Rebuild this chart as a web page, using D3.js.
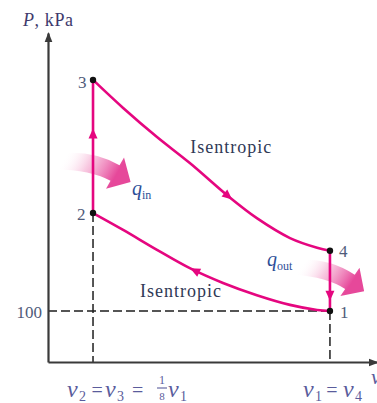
<!DOCTYPE html>
<html>
<head>
<meta charset="utf-8">
<script src="https://cdn.jsdelivr.net/npm/d3@7"></script>
<style>
  html, body { margin: 0; padding: 0; background: #ffffff; }
  svg { display: block; }
  svg text { font-family: 'Liberation Serif', 'Times New Roman', 'DejaVu Serif', serif; }
</style>
</head>
<body>
<svg id="chart" width="377" height="403"></svg>
<script>
// Ideal Otto cycle on P-v coordinates (schematic)
const stateNames = ["1", "2", "3", "4"];
const stateV = [8, 1, 1, 8];            // specific volume, in units of v2
const stateP = [100, 292, 553, 218];    // pressure, kPa

// isentropic compression 1 -> 2
const compressionV = [8, 7.62, 6.82, 5.84, 4.84, 3.86, 2.89, 1.89, 1];
const compressionP = [100, 102, 112, 131, 155, 184, 220, 259, 292];
// isentropic expansion 3 -> 4
const expansionV = [1, 1.89, 2.89, 3.86, 5.05, 5.84, 6.82, 7.62, 8];
const expansionP = [553, 498, 441, 390, 322, 282, 243, 224, 218];

const pTicks = [100];
const processLabel = "Isentropic";

const svg = d3.select("#chart");
const x = d3.scaleLinear().domain([-0.33, 9.39]).range([48, 377]);
const y = d3.scaleLinear().domain([0, 645]).range([362, 33]);

const pink = "#e5067f";
const axisColor = "#3a3a3a";
const numColor = "#4f5b7a";
const textColor = "#2f3956";
const symColor = "#5a5c9c";
const qColor = "#2e4f98";

const defs = svg.append("defs");
defs.append("marker")
  .attr("id", "axisHead")
  .attr("viewBox", "-10 -5 12 10")
  .attr("refX", -1.5).attr("refY", 0)
  .attr("markerWidth", 12).attr("markerHeight", 10)
  .attr("markerUnits", "userSpaceOnUse")
  .attr("orient", "auto")
  .append("path")
  .attr("d", "M-10,-3.8L0,0L-10,3.8Z")
  .attr("fill", axisColor);

const fade = defs.append("linearGradient")
  .attr("id", "heatFade")
  .attr("gradientUnits", "userSpaceOnUse")
  .attr("x1", -52).attr("y1", 0).attr("x2", 2).attr("y2", 0);
fade.append("stop").attr("offset", 0).attr("stop-color", "#ffffff").attr("stop-opacity", 0);
fade.append("stop").attr("offset", 0.45).attr("stop-color", "#f6b9d8").attr("stop-opacity", 0.75);
fade.append("stop").attr("offset", 1).attr("stop-color", "#e6489a").attr("stop-opacity", 1);

// dashed guide lines
const guides = svg.append("g")
  .attr("stroke", "#1e1e1e").attr("stroke-width", 1.5)
  .attr("stroke-dasharray", "9,4").attr("fill", "none");
guides.append("line")
  .attr("x1", x(x.domain()[0])).attr("y1", y(stateP[0]))
  .attr("x2", x(stateV[0])).attr("y2", y(stateP[0]));
guides.append("line")
  .attr("x1", x(stateV[1])).attr("y1", y(stateP[1]))
  .attr("x2", x(stateV[1])).attr("y2", y(0));
guides.append("line")
  .attr("x1", x(stateV[0])).attr("y1", y(stateP[0]))
  .attr("x2", x(stateV[0])).attr("y2", y(0));

// axes
const yAxisG = svg.append("g")
  .attr("transform", `translate(${x.range()[0]},0)`)
  .call(d3.axisLeft(y).tickValues(pTicks).tickSize(0).tickSizeOuter(0).tickPadding(6));
const xAxisG = svg.append("g")
  .attr("transform", `translate(0,${y(0)})`)
  .call(d3.axisBottom(x).tickValues([]).tickSizeOuter(0));
[yAxisG, xAxisG].forEach(g => {
  g.attr("font-family", null);
  g.select(".domain")
    .attr("stroke", axisColor).attr("stroke-width", 2.2)
    .attr("marker-end", "url(#axisHead)");
});
yAxisG.selectAll(".tick text")
  .attr("font-size", 17).attr("fill", numColor)
  .attr("dy", "0.36em");

// heat transfer arrows (drawn beneath the process lines)
const heatShape = "M-54,27 Q-22,9 0,9 L0,18 L18,0 L0,-18 L0,-9 Q-29,-9 -54,8 Z";
function heatArrow(cx, cy, angle, s) {
  svg.append("path")
    .attr("d", heatShape)
    .attr("transform", `translate(${cx},${cy}) rotate(${angle}) scale(${s})`)
    .attr("fill", "url(#heatFade)");
}
heatArrow(x(stateV[1]) + 22, y(stateP[1]) - 40, 30, 1);
heatArrow(x(stateV[3]) + 20, y(stateP[3]) + 31, 34, 0.95);

// processes
const line = d3.line().x(d => x(d[0])).y(d => y(d[1])).curve(d3.curveCatmullRom.alpha(0.5));
const processes = [
  d3.zip(compressionV, compressionP),               // 1 -> 2
  [[stateV[1], stateP[1]], [stateV[2], stateP[2]]], // 2 -> 3
  d3.zip(expansionV, expansionP),                   // 3 -> 4
  [[stateV[3], stateP[3]], [stateV[0], stateP[0]]]  // 4 -> 1
];
const paths = processes.map(d =>
  svg.append("path").datum(d)
    .attr("d", line)
    .attr("fill", "none")
    .attr("stroke", pink)
    .attr("stroke-width", 2.6)
    .node());

// direction arrows on each process: [process index, coordinate, value]
const flowMarks = [[0, "v", 4.0], [1, "P", 448], [2, "v", 5.0], [3, "P", 130]];
flowMarks.forEach(([i, key, val]) => {
  const p = paths[i];
  const L = p.getTotalLength();
  const target = key === "v" ? x(val) : y(val);
  let best = 0, bestD = Infinity;
  for (let l = 0; l <= L; l += 0.5) {
    const q = p.getPointAtLength(l);
    const d = Math.abs((key === "v" ? q.x : q.y) - target);
    if (d < bestD) { bestD = d; best = l; }
  }
  const a = p.getPointAtLength(Math.max(0, best - 1));
  const b = p.getPointAtLength(Math.min(L, best + 1));
  const c = p.getPointAtLength(best);
  const ang = Math.atan2(b.y - a.y, b.x - a.x) * 180 / Math.PI;
  svg.append("path")
    .attr("d", "M5,0L-5,-4.5L-5,4.5Z")
    .attr("transform", `translate(${c.x},${c.y}) rotate(${ang})`)
    .attr("fill", pink);
});

// state points
svg.append("g").selectAll("circle")
  .data(stateV.map((v, i) => i))
  .join("circle")
  .attr("cx", i => x(stateV[i])).attr("cy", i => y(stateP[i]))
  .attr("r", 3.2).attr("fill", "#111");

const labelOffsets = [[10, 7], [-16, 7], [-15, 8], [9, 6]];
svg.append("g").selectAll("text")
  .data(stateNames)
  .join("text")
  .attr("x", (d, i) => x(stateV[i]) + labelOffsets[i][0])
  .attr("y", (d, i) => y(stateP[i]) + labelOffsets[i][1])
  .attr("font-size", 17).attr("fill", numColor)
  .text(d => d);

// process names
svg.append("text")
  .attr("x", x(3.87)).attr("y", y(410))
  .attr("font-size", 18).attr("fill", textColor)
  .attr("letter-spacing", 1)
  .text(processLabel);
svg.append("text")
  .attr("x", x(2.39)).attr("y", y(127))
  .attr("font-size", 18).attr("fill", textColor)
  .attr("letter-spacing", 1)
  .text(processLabel);

// heat labels
function qLabel(px, py, sub) {
  const t = svg.append("text").attr("x", px).attr("y", py).attr("fill", qColor);
  t.append("tspan").attr("font-style", "italic").attr("font-size", 20).text("q");
  t.append("tspan").attr("font-size", 12).attr("dy", 4).text(sub);
}
qLabel(x(stateV[1]) + 39, y(stateP[1]) - 18, "in");
qLabel(x(stateV[3]) - 63, y(stateP[3]) + 15, "out");

// axis titles
const pTitle = svg.append("text").attr("x", 23).attr("y", 26)
  .attr("font-size", 18).attr("fill", "#3e3a6c").attr("letter-spacing", 0.6);
pTitle.append("tspan").attr("font-style", "italic").text("P");
pTitle.append("tspan").text(", kPa");

svg.append("text").attr("x", 371).attr("y", 384)
  .attr("font-size", 22).attr("font-style", "italic").attr("fill", symColor)
  .text("v");

// volume labels, laid out piece by piece from an anchor
const baseY = 397;
function piece(px, t, opts) {
  const o = opts || {};
  return svg.append("text")
    .attr("x", px).attr("y", baseY + (o.dy || 0))
    .attr("fill", symColor)
    .attr("font-size", o.size || 24)
    .attr("font-style", o.italic ? "italic" : null)
    .attr("text-anchor", o.anchor || "start")
    .text(t);
}
function vSym(px, sub) {
  piece(px, "v", { italic: true });
  piece(px + 12, sub, { size: 14, dy: 4 });
}
const a2 = x(stateV[1]);
vSym(a2 - 26, "2");
piece(a2 + 4, "=", { size: 20, anchor: "middle" });
vSym(a2 + 12, "3");
piece(a2 + 44.5, "=", { size: 20, anchor: "middle" });
const fx = a2 + 69;
piece(fx, "1", { size: 12, anchor: "middle", dy: -13 });
svg.append("line").attr("x1", fx - 5).attr("x2", fx + 5)
  .attr("y1", baseY - 9).attr("y2", baseY - 9)
  .attr("stroke", symColor).attr("stroke-width", 1.1);
piece(fx, "8", { size: 11, anchor: "middle", dy: 3 });
vSym(fx + 6, "1");

const a1 = x(stateV[0]);
vSym(a1 - 27, "1");
piece(a1 + 2, "=", { size: 20, anchor: "middle" });
vSym(a1 + 13, "4");
</script>
</body>
</html>
